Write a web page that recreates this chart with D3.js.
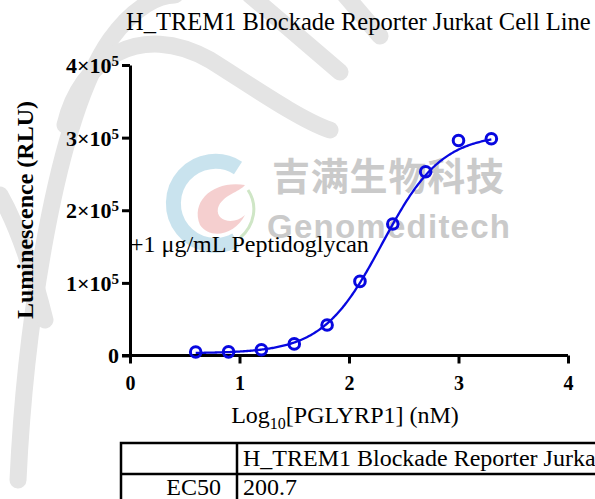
<!DOCTYPE html>
<html>
<head>
<meta charset="utf-8">
<script src="https://cdn.jsdelivr.net/npm/d3@7"></script>
<style>
  html, body { margin: 0; padding: 0; background: #fff; }
  svg { display: block; }
  text { font-family: "Liberation Serif", "Times New Roman", serif; }
</style>
</head>
<body>
<svg id="chart" width="595" height="499"></svg>
<script>
// log10 of PGLYRP1 concentration (nM)
var logConc = [0.6, 0.9, 1.2, 1.5, 1.8, 2.1, 2.4, 2.7, 3.0, 3.3];
// luminescence (RLU)
var rlu = [4800, 5000, 8000, 16000, 42000, 102000, 181000, 253000, 296000, 298500];
var xTicks = [0, 1, 2, 3, 4];
var yTicks = [0, 1e5, 2e5, 3e5, 4e5];
// 4PL fit, EC50 from the table
var ec50 = 200.7;
var fitBottom = 3000, fitTop = 305000, fitHill = 1.6;

var blue = '#0808e0';
var svg = d3.select('#chart');

var x = d3.scaleLinear().domain([0, 4]).range([130, 568]);
var y = d3.scaleLinear().domain([0, 4e5]).range([355.5, 65]);

// watermark, sits behind everything
var wm = svg.append('g').attr('class', 'watermark');
var bands = [
  'M 18 480 C 25 330, 55 120, 110 40 C 135 5, 160 -5, 175 -5',
  'M 0 195 C 20 230, 35 280, 45 320',
  'M 65 125 C 80 60, 140 20, 210 60 C 250 85, 300 120, 330 130',
  'M 250 -5 L 340 72',
  'M 345 -5 L 380 36'
];
wm.selectAll('path.band')
  .data(bands)
  .enter().append('path')
  .attr('class', 'band')
  .attr('d', function(d) { return d; })
  .attr('fill', 'none')
  .attr('stroke', '#e4e4e4')
  .attr('stroke-width', 17)
  .attr('stroke-linecap', 'round');

wm.append('path')
  .attr('d', 'M 238 168 A 42 42 0 1 0 236 240')
  .attr('fill', 'none')
  .attr('stroke', '#bcdcea')
  .attr('stroke-width', 15)
  .attr('opacity', 0.8);
wm.append('path')
  .attr('d', 'M 245 185 C 215 180, 190 200, 200 225 C 210 240, 235 235, 245 215 C 235 225, 215 222, 218 208 C 222 195, 240 192, 245 185 Z')
  .attr('fill', '#f3c3c3')
  .attr('opacity', 0.8);
wm.append('path')
  .attr('d', 'M 248 190 C 258 205, 255 225, 240 238')
  .attr('fill', 'none')
  .attr('stroke', '#cfe6c6')
  .attr('stroke-width', 3);

wm.append('text')
  .attr('x', 272).attr('y', 190)
  .style('font-family', '"Noto Sans CJK SC", sans-serif')
  .style('font-weight', 'bold')
  .style('font-size', '38px')
  .attr('fill', '#cacaca')
  .attr('textLength', 232)
  .text('吉满生物科技');
wm.append('text')
  .attr('x', 267).attr('y', 238)
  .style('font-family', '"Liberation Sans", Arial, sans-serif')
  .style('font-weight', 'bold')
  .style('font-size', '33px')
  .attr('fill', '#cacaca')
  .attr('textLength', 243)
  .text('Genomeditech');

// title
svg.append('text')
  .attr('x', 126).attr('y', 30)
  .style('font-size', '24.5px')
  .text('H_TREM1 Blockade Reporter Jurkat Cell Line');

// axes
var xAxis = d3.axisBottom(x).tickValues(xTicks).tickSize(8).tickSizeOuter(0)
  .tickFormat(d3.format('d'));
var yAxis = d3.axisLeft(y).tickValues(yTicks).tickSize(8).tickSizeOuter(0);

var gx = svg.append('g')
  .attr('transform', 'translate(0,' + y(0) + ')')
  .call(xAxis);
var gy = svg.append('g')
  .attr('transform', 'translate(' + x(0) + ',0)')
  .call(yAxis);

[gx, gy].forEach(function(g) {
  g.select('.domain').attr('stroke', '#000').attr('stroke-width', 3);
  g.selectAll('.tick line').attr('stroke', '#000').attr('stroke-width', 3);
  g.selectAll('.tick text')
    .attr('fill', '#000')
    .style('font-family', '"Liberation Serif", serif')
    .style('font-weight', 'bold')
    .style('font-size', '20px');
});
gx.select('.domain').attr('d', 'M' + (x(0) - 8) + ',0H' + x(4));
gx.selectAll('.tick text').attr('dy', '1.15em');

gy.selectAll('.tick text')
  .attr('x', -11)
  .attr('dy', '0.34em')
  .style('font-size', '22px')
  .each(function(d) {
    var t = d3.select(this);
    t.text(null);
    if (d === 0) { t.text('0'); return; }
    var m = d / 1e5;
    t.append('tspan').text(m + '×10');
    t.append('tspan').attr('dy', '-0.45em').style('font-size', '15px').text('5');
  });

// axis titles
svg.append('text')
  .attr('transform', 'translate(33,' + 210 + ') rotate(-90)')
  .attr('text-anchor', 'middle')
  .style('font-weight', 'bold')
  .style('font-size', '24px')
  .text('Luminescence (RLU)');

var xt = svg.append('text')
  .attr('x', 345).attr('y', 423)
  .attr('text-anchor', 'middle')
  .style('font-size', '24px');
xt.append('tspan').text('Log');
xt.append('tspan').attr('dy', 6).style('font-size', '16px').text('10');
xt.append('tspan').attr('dy', -6).text('[PGLYRP1] (nM)');

svg.append('text')
  .attr('x', 130).attr('y', 252)
  .style('font-size', '24px')
  .text('+1 μg/mL Peptidoglycan');

// fitted curve
var logEc50 = Math.log10(ec50);
var fitX = d3.range(logConc[0], logConc[logConc.length - 1] + 0.001, 0.01);
var line = d3.line()
  .x(function(d) { return x(d); })
  .y(function(d) {
    return y(fitBottom + (fitTop - fitBottom) / (1 + Math.pow(10, (logEc50 - d) * fitHill)));
  });
svg.append('path')
  .datum(fitX)
  .attr('d', line)
  .attr('fill', 'none')
  .attr('stroke', blue)
  .attr('stroke-width', 2.3);

svg.append('g').selectAll('circle')
  .data(logConc)
  .enter().append('circle')
  .attr('cx', function(d) { return x(d); })
  .attr('cy', function(d, i) { return y(rlu[i]); })
  .attr('r', 5.3)
  .attr('fill', 'none')
  .attr('stroke', blue)
  .attr('stroke-width', 3);

// results table
var tbl = svg.append('g').attr('class', 'table');
var tblLeft = 121, tblTop = 443, colDiv = 237, rowDiv = 474;
tbl.append('path')
  .attr('d', 'M' + tblLeft + ',499V' + tblTop + 'H600' +
             'M' + colDiv + ',' + tblTop + 'V499' +
             'M' + tblLeft + ',' + rowDiv + 'H600')
  .attr('fill', 'none')
  .attr('stroke', '#000')
  .attr('stroke-width', 2.5);
tbl.append('text')
  .attr('x', 243).attr('y', 466)
  .style('font-size', '24px')
  .text('H_TREM1 Blockade Reporter Jurkat Cell Line');
tbl.append('text')
  .attr('x', 221).attr('y', 495)
  .attr('text-anchor', 'end')
  .style('font-size', '24px')
  .text('EC50');
tbl.append('text')
  .attr('x', 243).attr('y', 495)
  .style('font-size', '24px')
  .text(String(ec50));
</script>
</body>
</html>
